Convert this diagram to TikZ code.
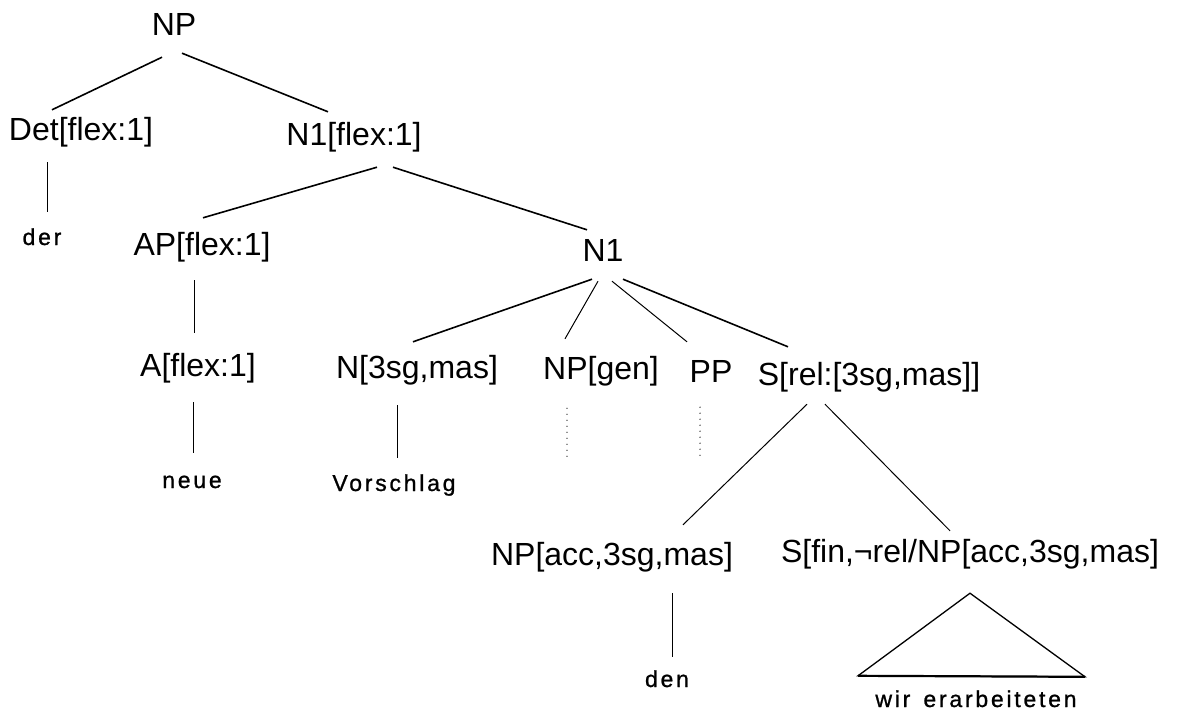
\documentclass[tikz,border=0pt]{standalone}
\usepackage{fontspec}
\setmainfont{Liberation Sans}
\newfontfamily\wordfamily[LetterSpace=12, FakeBold=1]{Liberation Sans}
\usetikzlibrary{positioning}
\tikzstyle{cat} = [font=\fontsize{32}{38}\selectfont, inner sep=0pt, anchor=base, text height=23pt, text depth=0pt]
\tikzstyle{word} = [font=\wordfamily\fontsize{23}{27}\selectfont, inner sep=0pt, anchor=base, text height=14pt, text depth=0pt]
\tikzstyle{branch} = [line width=1.6pt]
\tikzstyle{stem} = [line width=1pt]
\tikzstyle{dots} = [line width=1.4pt, line cap=round, dash pattern=on 0pt off 6pt]

\begin{document}
\begin{tikzpicture}[x=1pt, y=-1pt]
	\useasboundingbox (0,0) rectangle (1178,710);
	% categories
	\node (np) [cat] at (174,35) {NP};
	\node (det) [cat] at (81,140) {Det[flex:1]};
	\node (n1f) [cat] at (354,145) {N1[flex:1]};
	\node (ap) [cat] at (202,255) {AP[flex:1]};
	\node (n1) [cat] at (603,261) {N1};
	\node (a) [cat] at (198,376) {A[flex:1]};
	\node (nsg) [cat] at (417,378) {N[3sg,mas]};
	\node (npgen) [cat] at (601,379) {NP[gen]};
	\node (pp) [cat] at (711,382) {PP};
	\node (srel) [cat] at (869,385) {S[rel:[3sg,mas]]};
	\node (npacc) [cat] at (612,565) {NP[acc,3sg,mas]};
	\node (sfin) [cat] at (970,562) {S[fin,¬rel/NP[acc,3sg,mas]};
	% words
	\node (der) [word] at (42,245) {der};
	\node (neue) [word] at (192,488) {neue};
	\node (vorschlag) [word] at (394,491) {Vorschlag};
	\node (den) [word] at (667,687) {den};
	\node (wir) [word] at (976,707) {wir\hspace{4pt} erarbeiteten};
	\coordinate (genend) at ([xshift=-34pt,yshift=-80pt]npgen.south);
	\coordinate (ppend) at ([xshift=-11pt,yshift=-78pt]pp.south);

	\draw [branch] ([xshift=-12pt,yshift=-22pt]np.south) -- ([xshift=-29pt,yshift=7pt]det.north);
	\draw [branch] ([xshift=8pt,yshift=-18pt]np.south) -- ([xshift=-26pt,yshift=10pt]n1f.north);
	\draw [stem] ([xshift=-34pt,yshift=-22pt]det.south) -- ([xshift=5pt,yshift=19pt]der.north);
	\draw [branch] ([xshift=23pt,yshift=-22pt]n1f.south) -- ([xshift=1pt,yshift=14pt]ap.north);
	\draw [branch] ([xshift=39pt,yshift=-22pt]n1f.south) -- ([xshift=-16pt,yshift=8pt]n1.north);
	\draw [stem] ([xshift=-8pt,yshift=-25pt]ap.south) -- ([xshift=-4pt,yshift=20pt]a.north);
	\draw [stem] ([xshift=-5pt,yshift=-26pt]a.south) -- ([xshift=1pt,yshift=21pt]neue.north);
	\draw [branch] ([xshift=-11pt,yshift=-18pt]n1.south) -- ([xshift=-4pt,yshift=13pt]nsg.north);
	\draw [stem] ([xshift=-5pt,yshift=-20pt]n1.south) -- ([xshift=-36pt,yshift=17pt]npgen.north);
	\draw [stem] ([xshift=9pt,yshift=-20pt]n1.south) -- ([xshift=-24pt,yshift=17pt]pp.north);
	\draw [branch] ([xshift=20pt,yshift=-18pt]n1.south) -- ([xshift=-81pt,yshift=15pt]srel.north);
	\draw [stem] ([xshift=-20pt,yshift=-27pt]nsg.south) -- ([xshift=3pt,yshift=19pt]vorschlag.north);
	\draw [dots] ([xshift=-34pt,yshift=-29pt]npgen.south) -- (genend);
	\draw [dots] ([xshift=-11pt,yshift=-25pt]pp.south) -- (ppend);
	\draw [stem] ([xshift=-62pt,yshift=-19pt]srel.south) -- ([xshift=71pt,yshift=17pt]npacc.north);
	\draw [stem] ([xshift=-44pt,yshift=-19pt]srel.south) -- ([xshift=-20pt,yshift=8pt]sfin.north);
	\draw [stem] ([xshift=60pt,yshift=-28pt]npacc.south) -- ([xshift=5pt,yshift=16pt]den.north);
	\draw [stem, line width=1.3pt, line join=miter] ([yshift=-31pt]sfin.south) -- ([xshift=-118pt,yshift=17pt]wir.north) -- ([xshift=109pt,yshift=16pt]wir.north) -- cycle;
	\draw [branch, line width=2.2pt] ([xshift=-118pt,yshift=17pt]wir.north) -- ([xshift=109pt,yshift=16pt]wir.north);
\end{tikzpicture}
\end{document}
